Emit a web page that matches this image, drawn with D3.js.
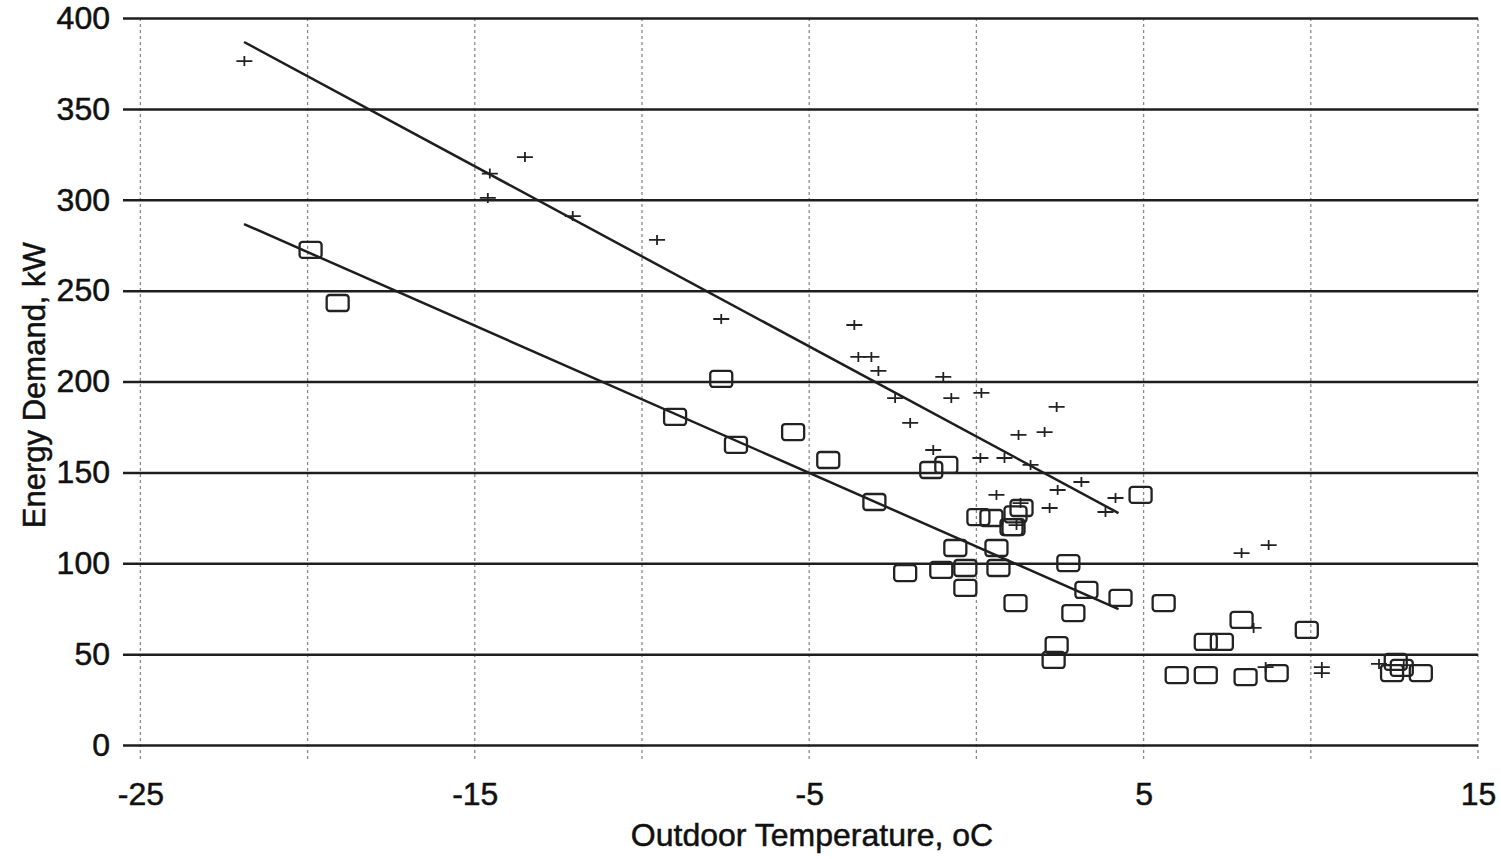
<!doctype html>
<html>
<head>
<meta charset="utf-8">
<title>Energy demand vs outdoor temperature</title>
<script src="https://cdnjs.cloudflare.com/ajax/libs/d3/7.8.5/d3.min.js"></script>
<style>
    body { margin: 0; background: #fff; }
    text { font-family: 'Liberation Sans', Arial, sans-serif; fill: #111; stroke: #111; stroke-width: 0.5px; }
</style>
</head>
<body>
<div id="chart"></div>
<script>

// measured points, upper group ("+")
var plusTemp = [-21.89, -14.55, -14.61, -13.50, -12.07, -9.55, -7.63, -3.65, -3.53, -3.14,
    -2.93, -2.43, -1.98, -1.29, -0.99, -0.75, 0.15, 0.12, 0.84, 0.60,
    1.26, 2.04, 2.40, 1.62, 3.14, 2.43, 2.19, 4.16, 3.86, 1.32,
    1.20, 7.93, 8.74, 8.29, 10.33, 10.33, 12.04, 8.65, 12.78];
var plusDemand = [376.3, 314.4, 301.0, 323.5, 291.0, 277.9, 234.4, 231.1, 213.5, 213.5,
    205.8, 190.9, 177.2, 162.3, 202.5, 190.9, 193.7, 157.9, 157.9, 137.6,
    170.6, 172.2, 186.0, 154.1, 144.7, 140.3, 130.4, 135.9, 128.2, 133.1,
    121.0, 105.6, 110.0, 64.4, 42.9, 39.6, 44.6, 42.9, 44.0];

// measured points, lower group (squares)
var boxTemp = [-19.91, -19.10, -9.01, -7.63, -7.19, -5.48, -4.43, -3.05, -2.13, -1.35,
    -0.90, -1.05, -0.63, -0.33, -0.33, 0.06, 0.45, 0.66, 0.60, 1.05,
    1.17, 1.35, 1.11, 1.17, 2.75, 2.90, 2.40, 2.31, 3.29, 4.31,
    4.91, 5.60, 5.99, 6.86, 6.86, 7.34, 7.93, 8.05, 8.98, 9.88,
    12.43, 12.54, 12.72, 13.29];
var boxDemand = [272.4, 243.2, 180.5, 201.4, 165.1, 172.2, 156.8, 133.7, 94.6, 151.3,
    154.1, 96.3, 108.4, 86.4, 97.4, 125.4, 124.9, 97.4, 108.4, 119.9,
    126.9, 130.4, 119.9, 78.1, 100.1, 72.6, 55.0, 46.8, 85.3, 80.9,
    137.6, 78.1, 38.5, 38.5, 56.7, 56.7, 68.8, 37.4, 39.6, 63.3,
    39.6, 45.7, 42.4, 39.6];

// fitted lines (end points)
var fitPlusTemp = [-21.9, 4.25];
var fitPlusDemand = [386.8, 127.6];
var fitBoxTemp = [-21.9, 4.25];
var fitBoxDemand = [286.6, 74.8];

var xTicks = [-25, -20, -15, -10, -5, 0, 5, 10, 15];
var xLabels = [-25, -15, -5, 5, 15];
var yTicks = [0, 50, 100, 150, 200, 250, 300, 350, 400];

var width = 1501, height = 859;
var margin = { top: 18, right: 23, bottom: 114, left: 127 };

var svg = d3.select("#chart").append("svg").attr("width", width).attr("height", height);

var xScale = d3.scaleLinear([-25.4, 15], [margin.left, width - margin.right]);
var yScale = d3.scaleLinear([0, 400], [height - margin.bottom, margin.top]);

// vertical dotted grid
svg.append("g").attr("class", "vgrid")
    .selectAll("line")
    .data(xTicks)
    .join("line")
    .attr("x1", d => xScale(d)).attr("x2", d => xScale(d))
    .attr("y1", yScale(400)).attr("y2", yScale(0) + 17)
    .attr("stroke", "#8a8a8a")
    .attr("stroke-width", 1.3)
    .attr("stroke-dasharray", "3,3");

// horizontal grid + y axis
var yAxis = d3.axisLeft(yScale).tickValues(yTicks).tickFormat(d => String(d))
    .tickSizeInner(-(width - margin.right - margin.left + 4)).tickSizeOuter(0).tickPadding(13);
var yg = svg.append("g").attr("class", "y-axis")
    .attr("transform", `translate(${margin.left - 4},0)`)
    .call(yAxis);
yg.select(".domain").remove();
yg.selectAll(".tick line").attr("stroke", "#1e1e1e").attr("stroke-width", 2.5);
yg.selectAll(".tick text").attr("font-size", 32).attr("fill", "#111");

// x labels
var xAxis = d3.axisBottom(xScale).tickValues(xLabels).tickFormat(d => String(d)).tickSize(0).tickPadding(37);
var xg = svg.append("g").attr("class", "x-axis")
    .attr("transform", `translate(0,${yScale(0)})`)
    .call(xAxis);
xg.select(".domain").remove();
xg.selectAll(".tick text").attr("font-size", 32).attr("fill", "#111");

// axis titles
svg.append("text")
    .attr("x", 812).attr("y", 846)
    .attr("text-anchor", "middle")
    .attr("font-size", 32)
    .text("Outdoor Temperature, oC");

svg.append("text")
    .attr("transform", `translate(45,${yScale(198)}) rotate(-90)`)
    .attr("text-anchor", "middle")
    .attr("font-size", 31)
    .text("Energy Demand, kW");

// fitted lines
var line = d3.line().x(d => xScale(d[0])).y(d => yScale(d[1]));
svg.append("path")
    .datum(d3.zip(fitPlusTemp, fitPlusDemand))
    .attr("d", line).attr("fill", "none").attr("stroke", "#1e1e1e").attr("stroke-width", 2.5);
svg.append("path")
    .datum(d3.zip(fitBoxTemp, fitBoxDemand))
    .attr("d", line).attr("fill", "none").attr("stroke", "#1e1e1e").attr("stroke-width", 2.5);

// square markers
svg.append("g").attr("class", "boxes")
    .selectAll("rect")
    .data(d3.zip(boxTemp, boxDemand))
    .join("rect")
    .attr("x", d => xScale(d[0]) - 11)
    .attr("y", d => yScale(d[1]) - 8)
    .attr("width", 22).attr("height", 16)
    .attr("rx", 3)
    .attr("fill", "none")
    .attr("stroke", "#222")
    .attr("stroke-width", 2.3);

// plus markers
svg.append("g").attr("class", "plus")
    .selectAll("path")
    .data(d3.zip(plusTemp, plusDemand))
    .join("path")
    .attr("transform", d => `translate(${xScale(d[0])},${yScale(d[1])})`)
    .attr("d", "M-8,0H8M0,-5V5")
    .attr("fill", "none")
    .attr("stroke", "#222")
    .attr("stroke-width", 1.8);

</script>
</body>
</html>
